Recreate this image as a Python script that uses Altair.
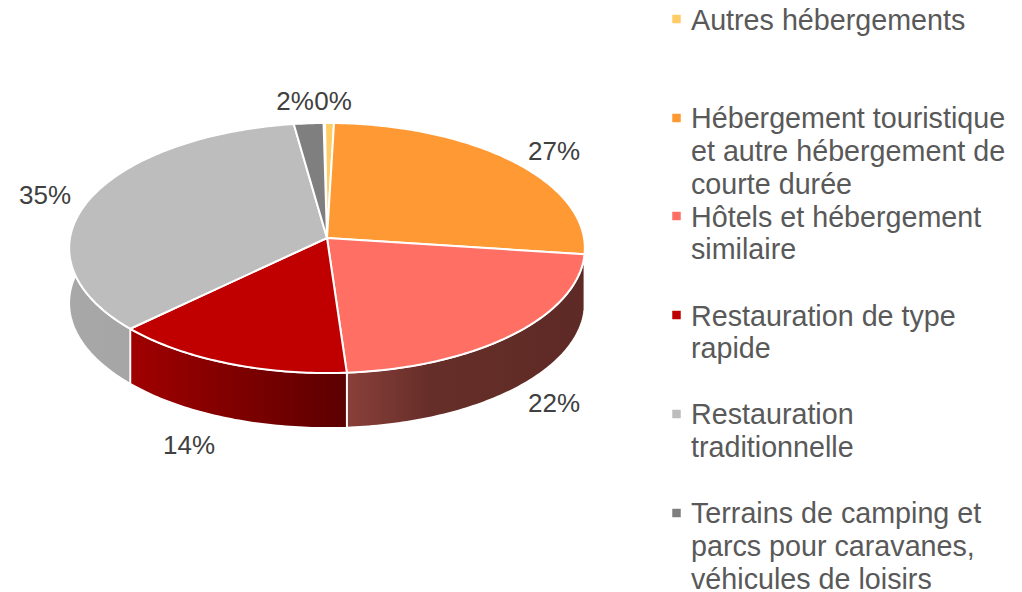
import math
import altair as alt
import pandas as pd

# ---- chart values
categories = ["Autres hébergements",
              "Hébergement touristique et autre hébergement de courte durée",
              "Hôtels et hébergement similaire",
              "Restauration de type rapide",
              "Restauration traditionnelle",
              "Terrains de camping et parcs pour caravanes, véhicules de loisirs"]
shares = [0.6, 26.6, 21.8, 14.0, 34.9, 2.0]
pct_labels = ["0%", "27%", "22%", "14%", "35%", "2%"]
colors = ["#FFCC66", "#FF9933", "#FF6F64", "#C00000", "#BDBDBD", "#7F7F7F"]

# ---- layout in reference pixels
label_x = [333, 554, 554, 189, 45, 295]
label_y = [102, 152, 404, 446, 196, 102]
legend_square_y = [19, 118, 216, 315, 414, 513]
legend_lines = [
    ("Autres hébergements", 21),
    ("Hébergement touristique", 119), ("et autre hébergement de", 152), ("courte durée", 185),
    ("Hôtels et hébergement", 218), ("similaire", 250),
    ("Restauration de type", 317), ("rapide", 349),
    ("Restauration", 415), ("traditionnelle", 448),
    ("Terrains de camping et", 514), ("parcs pour caravanes,", 547), ("véhicules de loisirs", 580),
]
CX, CY, A, B, K, DEPTH = 327, 238, 257, 124.2, 0.08, 55
START = -0.13  # percent, rotation of first slice


def rim(pct):
    th = pct / 100 * 2 * math.pi
    X, Y = math.sin(th), math.cos(th)
    w = 1 + K * Y
    return CX + A * X / w, CY - B * Y / w


def span(p0, p1, step=0.25):
    n = max(2, int(abs(p1 - p0) / step) + 1)
    return [p0 + (p1 - p0) * i / (n - 1) for i in range(n)]


edges = [START]
for s in shares:
    edges.append(edges[-1] + s)

tops = []
for name, p0, p1 in zip(categories, edges[:-1], edges[1:]):
    pts = [(CX, CY)] + [rim(p) for p in span(p0, p1)] + [(CX, CY)]
    tops += [{"slice": name, "i": i, "x": x, "y": y} for i, (x, y) in enumerate(pts)]
tops = pd.DataFrame(tops)


def wall(p0, p1):
    front = [rim(p) for p in span(p0, p1)]
    back = [(x, y + DEPTH) for x, y in reversed(front)]
    pts = front + back + front[:1]
    return pd.DataFrame([{"i": i, "x": x, "y": y} for i, (x, y) in enumerate(pts)])


xs = alt.Scale(domain=[8, 1014], nice=False, zero=False)
ys = alt.Scale(domain=[8, 592], reverse=True, nice=False, zero=False)
X = alt.X("x:Q", scale=xs, axis=None)
Y = alt.Y("y:Q", scale=ys, axis=None)


def grad(*stops):
    return alt.LinearGradient(gradient="linear", x1=0, x2=1, y1=0, y2=0,
                              stops=[alt.GradientStop(color=c, offset=o) for c, o in stops])


def wall_layer(df, fill):
    return alt.Chart(df).mark_line(fill=fill, stroke="white", strokeWidth=1.8, strokeJoin="round", clip=False).encode(
        x=X, y=Y, order="i:Q")


walls = (
    wall_layer(wall(edges[2], edges[3]), grad(("#8A3F3A", 0), ("#662E29", 0.35), ("#5E2A25", 1)))
    + wall_layer(wall(edges[3], edges[4]), grad(("#A00000", 0), ("#5C0000", 1)))
    + wall_layer(wall(edges[4], edges[4] + 25.5), grad(("#A8A8A8", 0), ("#A4A4A4", 1)))
)

top_layer = alt.Chart(tops).mark_line(stroke="white", strokeWidth=2, strokeJoin="round").encode(
    x=X, y=Y, order="i:Q",
    fill=alt.Fill("slice:N", scale=alt.Scale(domain=categories, range=colors), legend=None),
    detail="slice:N",
)

pct = alt.Chart(pd.DataFrame({"x": label_x, "y": label_y, "t": pct_labels})).mark_text(
    font="Liberation Sans", fontSize=26, color="#404040", align="center", baseline="middle"
).encode(x=X, y=Y, text="t:N")

squares = alt.Chart(pd.DataFrame({"x": [676.5] * 6, "y": legend_square_y, "c": categories})).mark_square(
    size=72, opacity=1
).encode(x=X, y=Y, color=alt.Color("c:N", scale=alt.Scale(domain=categories, range=colors), legend=None))

legend_text = alt.Chart(pd.DataFrame({"x": [691] * len(legend_lines),
                                      "y": [l[1] for l in legend_lines],
                                      "t": [l[0] for l in legend_lines]})).mark_text(
    font="Liberation Sans", fontSize=28.7, color="#595959", align="left", baseline="middle"
).encode(x=X, y=Y, text="t:N")

chart = (walls + top_layer + pct + squares + legend_text).resolve_scale(fill="independent", color="independent").properties(
    width=1006, height=584, padding=0, autosize=alt.AutoSizeParams(type="none")
).configure_view(stroke=None)

chart.save("out.html", embed_options={"renderer": "svg", "actions": False})
